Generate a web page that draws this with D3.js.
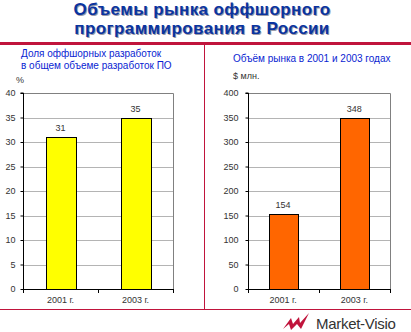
<!DOCTYPE html>
<html>
<head>
<meta charset="utf-8">
<script src="https://cdn.jsdelivr.net/npm/d3@7"></script>
<style>
  html, body { margin: 0; padding: 0; background: #fff; }
  svg { display: block; font-family: Arial, "Liberation Sans", sans-serif; }
</style>
</head>
<body>
<svg id="chart" width="411" height="332"></svg>
<script>
// Data
const years = ["2001 г.", "2003 г."];
const offshoreShare = [31, 35];          // % of all software development
const marketVolume = [154, 348];         // $ млн.
const shareTicks = [0, 5, 10, 15, 20, 25, 30, 35, 40];
const volumeTicks = [0, 50, 100, 150, 200, 250, 300, 350, 400];

const titleLines = ["Объемы рынка оффшорного", "программирования в России"];
const leftSubtitle = ["Доля оффшорных разработок", "в общем объеме разработок ПО"];
const rightSubtitle = ["Объём рынка в 2001 и 2003 годах"];

const svg = d3.select("#chart");
const RED = "#c0143c";
const BLUE_TITLE = "#0a34a0";
const BLUE_SUB = "#0a1ed2";
const TXT = "#333";

// Title with soft shadow
const title = svg.append("g");
titleLines.forEach((t, i) => {
  title.append("text").attr("x", 202 + 1).attr("y", 15 + i * 19 + 1)
    .attr("text-anchor", "middle").attr("font-size", 17).attr("font-weight", "bold")
    .attr("letter-spacing", 0.4).attr("fill", "#9a9aa8").text(t);
  title.append("text").attr("x", 202).attr("y", 15 + i * 19)
    .attr("text-anchor", "middle").attr("font-size", 17).attr("font-weight", "bold")
    .attr("letter-spacing", 0.4).attr("fill", BLUE_TITLE).text(t);
});

// Panel frame
svg.append("rect").attr("x", 0).attr("y", 42).attr("width", 411).attr("height", 3).attr("fill", RED);
svg.append("line").attr("x1", 204.5).attr("x2", 204.5).attr("y1", 45).attr("y2", 309)
  .attr("stroke", RED).attr("stroke-width", 1);
svg.append("line").attr("x1", 0).attr("x2", 411).attr("y1", 309.5).attr("y2", 309.5)
  .attr("stroke", RED).attr("stroke-width", 1);

function panel(opts) {
  const g = svg.append("g");
  const y = d3.scaleLinear().domain([opts.ticks[0], opts.ticks[opts.ticks.length - 1]])
    .range([289, 93]);
  const x = d3.scaleBand().domain(years).range([opts.x0, opts.x1])
    .paddingInner(0.6).paddingOuter(0.3);

  // gridlines
  g.append("g").selectAll("line").data(opts.ticks.slice(1, -1)).join("line")
    .attr("x1", opts.x0).attr("x2", opts.x1)
    .attr("y1", d => Math.round(y(d)) + 0.5).attr("y2", d => Math.round(y(d)) + 0.5)
    .attr("stroke", "#b4b4b4").attr("stroke-width", 1);
  // top and right frame
  g.append("path")
    .attr("d", `M${opts.x0},${Math.round(y(opts.ticks[opts.ticks.length - 1])) + 0.5}H${Math.round(opts.x1) + 0.5}V289`)
    .attr("fill", "none").attr("stroke", "#808080");

  // bars
  g.append("g").selectAll("rect").data(opts.values).join("rect")
    .attr("x", (d, i) => Math.round(x(years[i])) + 0.5)
    .attr("width", Math.round(x.bandwidth()))
    .attr("y", d => Math.round(y(d)) + 0.5)
    .attr("height", d => 289 - Math.round(y(d)))
    .attr("fill", opts.color).attr("stroke", "#000").attr("stroke-width", 1);

  // value labels
  g.append("g").selectAll("text").data(opts.values).join("text")
    .attr("x", (d, i) => x(years[i]) + x.bandwidth() / 2)
    .attr("y", d => y(d) - 6)
    .attr("text-anchor", "middle").attr("font-size", 9).attr("fill", TXT)
    .text(d => d);

  // y axis
  const ya = d3.axisLeft(y).tickValues(opts.ticks).tickSize(3).tickPadding(opts.pad);
  const yg = g.append("g").attr("transform", `translate(${Math.round(opts.x0) + 0.5},0)`).call(ya);
  yg.select(".domain").attr("d", `M-3,${y(opts.ticks[opts.ticks.length - 1])}H0V289.5`);
  yg.selectAll("text").attr("font-size", 9).attr("fill", TXT).attr("font-family", "Arial, 'Liberation Sans', sans-serif");
  yg.selectAll(".tick line").attr("stroke", "#000");

  // x axis with ticks on category boundaries
  const xa = g.append("g");
  xa.append("line").attr("x1", opts.x0).attr("x2", opts.x1).attr("y1", 289.5).attr("y2", 289.5)
    .attr("stroke", "#000");
  const step = (opts.x1 - opts.x0) / years.length;
  xa.selectAll("line.t").data(d3.range(years.length + 1)).join("line").attr("class", "t")
    .attr("x1", i => Math.round(opts.x0 + i * step) + 0.5).attr("x2", i => Math.round(opts.x0 + i * step) + 0.5)
    .attr("y1", 289).attr("y2", 293).attr("stroke", "#000");
  xa.selectAll("text").data(years).join("text")
    .attr("x", d => x(d) + x.bandwidth() / 2).attr("y", 303)
    .attr("text-anchor", "middle").attr("font-size", 9).attr("fill", TXT).text(d => d);

  // headings
  opts.subtitle.forEach((t, i) => {
    g.append("text").attr("x", opts.subX).attr("y", opts.subY + i * 12)
      .attr("font-size", 10).attr("fill", BLUE_SUB).text(t);
  });
  g.append("text").attr("x", opts.unitX).attr("y", opts.unitY)
    .attr("font-size", 9).attr("fill", TXT).text(opts.unit);
}

panel({ values: offshoreShare, ticks: shareTicks, x0: 23, x1: 173, color: "#ffff00",
        pad: 5, subtitle: leftSubtitle, subX: 21, subY: 57, unit: "%", unitX: 16, unitY: 83 });
panel({ values: marketVolume, ticks: volumeTicks, x0: 247.5, x1: 390, color: "#ff6600",
        pad: 7, subtitle: rightSubtitle, subX: 233, subY: 62, unit: "$ млн.", unitX: 233, unitY: 79 });

// Market-Visio logo
const logo = svg.append("g");
logo.append("path")
  .attr("d", "M283,329 L291,318 L293,324 L299,317 L300,323 L309,313 L301,329 L297,324 L291,330 L289,324 Z")
  .attr("fill", RED);
logo.append("text").attr("x", 316).attr("y", 329).attr("font-size", 15)
  .attr("fill", "#333").attr("letter-spacing", -0.3).text("Market-Visio");
</script>
</body>
</html>
